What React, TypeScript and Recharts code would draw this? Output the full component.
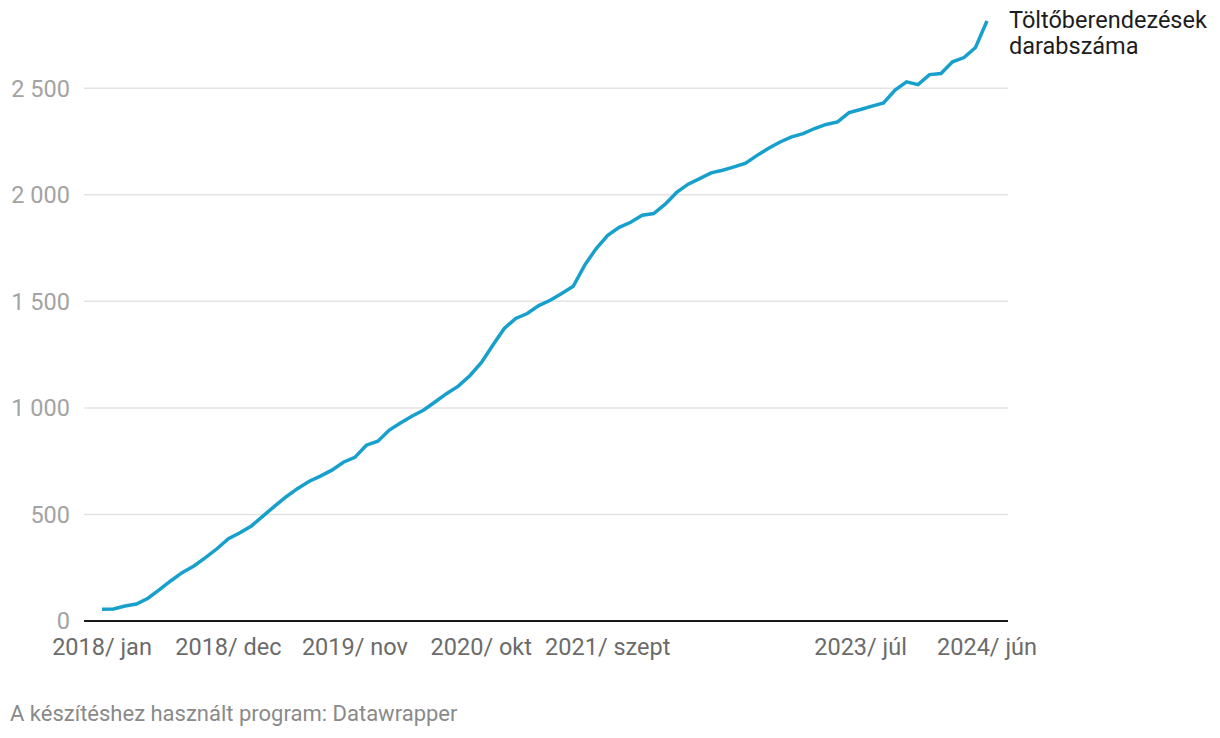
import React from "react";
import { LineChart, Line, XAxis, YAxis, CartesianGrid } from "recharts";

const monthNames = ["jan", "febr", "márc", "ápr", "máj", "jún", "júl", "aug", "szept", "okt", "nov", "dec"];

// number of charging devices, monthly from 2018/ jan to 2024/ jún
const chargerCounts = [
  55, 56, 70, 80, 107, 147, 189, 228, 258, 297, 339, 386,
  414, 446, 492, 538, 582, 621, 655, 680, 708, 745, 768, 825,
  844, 896, 930, 962, 990, 1029, 1068, 1102, 1151, 1212, 1294, 1373,
  1420, 1443, 1480, 1505, 1537, 1571, 1670, 1748, 1810, 1847, 1871, 1904,
  1912, 1956, 2011, 2050, 2076, 2103, 2115, 2131, 2148, 2185, 2218, 2248,
  2272, 2287, 2311, 2330, 2342, 2386, 2400, 2416, 2431, 2491, 2530, 2517,
  2564, 2569, 2624, 2644, 2691, 2816,
];

const xTicks = ["2018/ jan", "2018/ dec", "2019/ nov", "2020/ okt", "2021/ szept", "2023/ júl", "2024/ jún"];
const yTicks = [0, 500, 1000, 1500, 2000, 2500];

const data = chargerCounts.map((value, i) => ({
  label: `${2018 + Math.floor(i / 12)}/ ${monthNames[i % 12]}`,
  value,
}));

const fmt = (v: number) => String(v).replace(/\B(?=(\d{3})+(?!\d))/g, " ");

const EndLabel = (props: any) => {
  const { x, y, index } = props;
  if (index !== data.length - 1) return null;
  return (
    <text x={x + 22} y={y + 7.5} fill="#1d1d1d" fontSize={23.5} fontFamily="Roboto">
      <tspan x={x + 22}>Töltőberendezések</tspan>
      <tspan x={x + 22} dy={26}>darabszáma</tspan>
    </text>
  );
};

export default function App() {
  return (
    <div
      style={{
        position: "absolute",
        left: 0,
        top: 0,
        width: 1220,
        height: 738,
        background: "#fff",
        fontFamily: "Roboto",
      }}
    >
      <LineChart
        width={1220}
        height={680}
        data={data}
        margin={{ top: 3, right: 212, bottom: 19, left: 0 }}
      >
        <CartesianGrid vertical={false} horizontalValues={yTicks} stroke="#e3e3e3" strokeWidth={1.5} />
        <XAxis
          dataKey="label"
          ticks={xTicks}
          interval={0}
          tickLine={false}
          tickSize={0}
          tickMargin={17}
          height={40}
          padding={{ left: 18, right: 21 }}
          axisLine={{ stroke: "#1a1a1a", strokeWidth: 2 }}
          tick={{ fill: "#6b6b6b", fontSize: 23.5, fontFamily: "Roboto" }}
        />
        <YAxis
          width={84}
          domain={[0, 2900]}
          ticks={yTicks}
          axisLine={false}
          tickLine={false}
          tickSize={0}
          tickMargin={14}
          tickFormatter={fmt}
          tick={{ fill: "#a3a3a3", fontSize: 23.5, fontFamily: "Roboto" }}
        />
        <Line
          type="linear"
          dataKey="value"
          stroke="#18a0cd"
          strokeWidth={3.5}
          dot={false}
          label={EndLabel}
          isAnimationActive={false}
        />
      </LineChart>
      <div
        style={{
          position: "absolute",
          left: 10,
          top: 701,
          fontSize: 22,
          color: "#8a8a8a",
          fontFamily: "Roboto",
        }}
      >
        A készítéshez használt program: Datawrapper
      </div>
    </div>
  );
}
